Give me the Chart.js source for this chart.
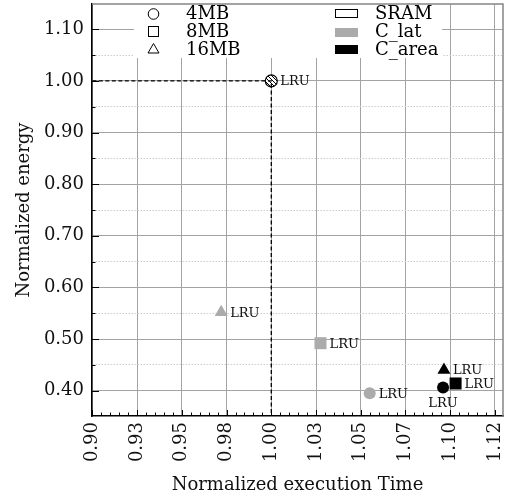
<!DOCTYPE html>
<html>
<head>
<meta charset="utf-8">
<script src="https://cdn.jsdelivr.net/npm/chart.js@4.4.1/dist/chart.umd.min.js"></script>
<style>
  body { margin: 0; background: #fff; }
  canvas { display: block; }
</style>
</head>
<body>
<canvas id="chartEnergy" width="513" height="500"></canvas>
<script>
// values (x = normalized time, y = normalized energy)
// order inside each series: 4MB, 8MB, 16MB
const sramX = [1.000];
const sramY = [1.000];
const clatX = [1.055, 1.0275, 0.972];
const clatY = [0.395, 0.492, 0.552];
const careaX = [1.096, 1.103, 1.0965];
const careaY = [0.406, 0.414, 0.440];
const pointLabel = 'LRU';

// dashed guide through the SRAM point
const guideX = [0.90, 1.00, 1.00];
const guideY = [1.00, 1.00, 0.35];

// axes
const xTicks = [0.900, 0.925, 0.950, 0.975, 1.000, 1.025, 1.050, 1.075, 1.100, 1.125];
const xTickLabels = ['0.90', '0.93', '0.95', '0.98', '1.00', '1.03', '1.05', '1.07', '1.10', '1.12'];
const xMinorTicks = [0.905, 0.91, 0.915, 0.92, 0.93, 0.935, 0.94, 0.945, 0.955, 0.96, 0.965, 0.97,
  0.98, 0.985, 0.99, 0.995, 1.005, 1.01, 1.015, 1.02, 1.03, 1.035, 1.04, 1.045, 1.055, 1.06, 1.065, 1.07,
  1.08, 1.085, 1.09, 1.095, 1.105, 1.11, 1.115, 1.12];
const yTicks = [0.40, 0.50, 0.60, 0.70, 0.80, 0.90, 1.00, 1.10];
const yTickLabels = ['0.40', '0.50', '0.60', '0.70', '0.80', '0.90', '1.00', '1.10'];
const yMinorTicks = [0.45, 0.55, 0.65, 0.75, 0.85, 0.95, 1.05];

// legend
const sizeLabels = ['4MB', '8MB', '16MB'];
const techLabels = ['SRAM', 'C_lat', 'C_area'];

const GRAY = '#ababab';
const SERIF = '"DejaVu Serif", serif';

function toPoints(xs, ys) {
  return xs.map((x, i) => ({ x: x, y: ys[i] }));
}

// hatch pattern for the SRAM marker
function hatch() {
  const c = document.createElement('canvas');
  c.width = 4; c.height = 4;
  const g = c.getContext('2d');
  g.fillStyle = '#fff';
  g.fillRect(0, 0, 4, 4);
  g.strokeStyle = '#000';
  g.lineWidth = 1;
  g.beginPath();
  g.moveTo(-1, -1); g.lineTo(5, 5);
  g.stroke();
  return g.createPattern(c, 'repeat');
}

function pointDataset(xs, ys, i, color, style, extra) {
  return Object.assign({
    data: toPoints([xs[i]], [ys[i]]),
    pointStyle: style,
    pointRadius: style === 'rect' ? 8.5 : (style === 'triangle' ? 7.5 : 6),
    backgroundColor: color,
    borderColor: color,
    borderWidth: 0,
    labelSide: 'right'
  }, extra || {});
}

const sramSet = pointDataset(sramX, sramY, 0, hatch(), 'circle', { borderColor: '#000', borderWidth: 1.2 });

const datasets = [
  {
    type: 'line',
    data: toPoints(guideX, guideY),
    borderColor: '#000',
    borderWidth: 1.3,
    borderDash: [4, 2.5],
    pointRadius: 0,
    fill: false,
    noLabel: true
  },
  sramSet,
  pointDataset(clatX, clatY, 0, GRAY, 'circle'),
  pointDataset(clatX, clatY, 1, GRAY, 'rect'),
  pointDataset(clatX, clatY, 2, GRAY, 'triangle'),
  pointDataset(careaX, careaY, 0, '#000', 'circle', { labelSide: 'below' }),
  pointDataset(careaX, careaY, 1, '#000', 'rect'),
  pointDataset(careaX, careaY, 2, '#000', 'triangle')
];

// frame, inward ticks, point labels and legend
const decorations = {
  id: 'decorations',
  afterDatasetsDraw(chart) {
    const { ctx, chartArea: a, scales: { x, y } } = chart;
    ctx.save();

    // legend box (white, no frame) sits on the grid
    ctx.fillStyle = '#fff';
    ctx.fillRect(134, a.top, 308, 58 - a.top);

    // top & right spines
    ctx.strokeStyle = '#858585';
    ctx.lineWidth = 1.5;
    ctx.beginPath();
    ctx.moveTo(a.left, a.top); ctx.lineTo(a.right, a.top); ctx.lineTo(a.right, a.bottom);
    ctx.stroke();

    // inward tick marks
    ctx.strokeStyle = '#000';
    ctx.lineWidth = 1;
    ctx.beginPath();
    xTicks.forEach(v => { const px = Math.round(x.getPixelForValue(v)) + 0.5; ctx.moveTo(px, a.bottom); ctx.lineTo(px, a.bottom - 6); });
    xMinorTicks.forEach(v => { const px = Math.round(x.getPixelForValue(v)) + 0.5; ctx.moveTo(px, a.bottom); ctx.lineTo(px, a.bottom - 3.5); });
    yTicks.forEach(v => { const py = Math.round(y.getPixelForValue(v)) + 0.5; ctx.moveTo(a.left, py); ctx.lineTo(a.left + 7, py); });
    yMinorTicks.forEach(v => { const py = Math.round(y.getPixelForValue(v)) + 0.5; ctx.moveTo(a.left, py); ctx.lineTo(a.left + 3.5, py); });
    ctx.stroke();

    // LRU labels
    ctx.fillStyle = '#111';
    ctx.font = '13px ' + SERIF;
    chart.data.datasets.forEach((ds, i) => {
      if (ds.noLabel) return;
      chart.getDatasetMeta(i).data.forEach(el => {
        if (ds.labelSide === 'below') {
          ctx.textAlign = 'center';
          ctx.textBaseline = 'middle';
          ctx.fillText(pointLabel, el.x, el.y + 16);
        } else {
          ctx.textAlign = 'left';
          ctx.textBaseline = 'middle';
          ctx.fillText(pointLabel, el.x + 9, el.y + 1);
        }
      });
    });

    // legend contents
    const rows = [19, 37, 55];
    const mid = [14, 31.5, 49];
    ctx.fillStyle = '#000';
    ctx.font = '18px ' + SERIF;
    ctx.textAlign = 'left';
    ctx.textBaseline = 'alphabetic';
    sizeLabels.forEach((t, i) => ctx.fillText(t, 186, rows[i]));
    techLabels.forEach((t, i) => ctx.fillText(t, 375, rows[i]));

    ctx.strokeStyle = '#000';
    ctx.lineWidth = 1;
    ctx.beginPath(); ctx.arc(153.5, mid[0], 5.3, 0, Math.PI * 2); ctx.stroke();
    ctx.strokeRect(148.5, mid[1] - 5, 10, 10);
    ctx.beginPath();
    ctx.moveTo(153.5, mid[2] - 5.5); ctx.lineTo(159, mid[2] + 4); ctx.lineTo(148, mid[2] + 4); ctx.closePath();
    ctx.stroke();
    ctx.strokeRect(335.5, 9.5, 22, 8);
    ctx.fillStyle = GRAY; ctx.fillRect(335, 28, 23, 9);
    ctx.fillStyle = '#000'; ctx.fillRect(335, 45, 23, 9);

    ctx.restore();
  }
};

function noPad(s) {
  s.paddingTop = 0; s.paddingBottom = 0; s.paddingLeft = 0; s.paddingRight = 0;
}

const Energy = document.getElementById('chartEnergy').getContext('2d');

new Chart(Energy, {
  type: 'scatter',
  data: { datasets: datasets },
  options: {
    responsive: false,
    animation: false,
    devicePixelRatio: 1,
    layout: { autoPadding: false, padding: { top: 4, right: 10, left: 0, bottom: 0 } },
    plugins: { legend: { display: false }, tooltip: { enabled: false } },
    scales: {
      x: {
        type: 'linear',
        min: 0.8998,
        max: 1.1295,
        afterBuildTicks: s => { s.ticks = xTicks.map(v => ({ value: v })); },
        afterFit: s => { s.height = 84; noPad(s); },
        ticks: {
          callback: v => { const i = xTicks.findIndex(t => Math.abs(t - v) < 1e-6); return i >= 0 ? xTickLabels[i] : ''; },
          minRotation: 90,
          maxRotation: 90,
          padding: 6,
          color: '#111',
          font: { family: SERIF, size: 18 }
        },
        grid: { color: '#a3a3a3', lineWidth: 1, drawTicks: false },
        border: { color: '#000', width: 1.5 },
        title: {
          display: true,
          text: 'Normalized execution Time',
          color: '#111',
          padding: { top: 0, bottom: 4 },
          font: { family: SERIF, size: 18 }
        }
      },
      y: {
        type: 'linear',
        min: 0.351,
        max: 1.149,
        afterBuildTicks: s => { s.ticks = yTicks.concat(yMinorTicks).sort((p, q) => p - q).map(v => ({ value: v })); },
        afterFit: s => { s.width = 92; noPad(s); },
        ticks: {
          callback: v => { const i = yTicks.findIndex(t => Math.abs(t - v) < 1e-6); return i >= 0 ? yTickLabels[i] : ''; },
          padding: 8,
          color: '#111',
          font: { family: SERIF, size: 18 }
        },
        grid: {
          color: c => yTicks.some(t => Math.abs(t - c.tick.value) < 1e-6) ? '#a3a3a3' : '#cdcdcd',
          lineWidth: 1,
          drawTicks: false
        },
        border: {
          color: '#000',
          width: 1.5,
          dash: c => (c.tick && yMinorTicks.some(t => Math.abs(t - c.tick.value) < 1e-6)) ? [1.5, 1.5] : []
        },
        title: {
          display: true,
          text: 'Normalized energy',
          color: '#111',
          padding: { top: 14, bottom: 0 },
          font: { family: SERIF, size: 18 }
        }
      }
    }
  },
  plugins: [decorations]
});
</script>
</body>
</html>
